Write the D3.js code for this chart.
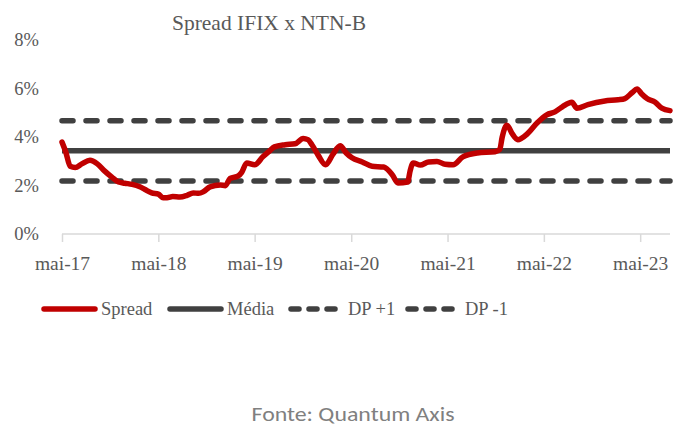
<!DOCTYPE html>
<html><head><meta charset="utf-8">
<script src="https://cdn.jsdelivr.net/npm/d3@7"></script>
<style>
html,body{margin:0;padding:0;background:#fff;}
svg{display:block;}
</style></head>
<body>
<svg id="chart" width="675" height="430"></svg>
<script>
// ---- data ----
const title = "Spread IFIX x NTN-B";
const source = "Fonte: Quantum Axis";
const dates = ["2017-05-01","2017-05-15","2017-06-01","2017-06-20","2017-07-15","2017-08-15","2017-09-12","2017-10-10","2017-11-06","2017-12-01","2017-12-25","2018-01-22","2018-02-20","2018-03-10","2018-04-06","2018-05-01","2018-05-19","2018-06-03","2018-06-25","2018-07-22","2018-08-18","2018-09-10","2018-10-01","2018-10-19","2018-11-13","2018-12-22","2019-01-10","2019-01-28","2019-02-28","2019-03-13","2019-04-01","2019-05-01","2019-06-01","2019-06-28","2019-07-15","2019-08-25","2019-10-01","2019-11-01","2019-11-19","2019-12-04","2019-12-28","2020-01-25","2020-02-22","2020-03-20","2020-04-12","2020-05-04","2020-06-12","2020-07-19","2020-09-01","2020-10-04","2020-10-25","2020-12-01","2020-12-10","2020-12-22","2021-01-18","2021-02-18","2021-03-22","2021-04-22","2021-05-22","2021-06-28","2021-08-22","2021-10-28","2021-11-15","2021-11-24","2021-12-12","2022-01-01","2022-01-22","2022-02-28","2022-04-06","2022-05-12","2022-06-12","2022-07-10","2022-08-15","2022-09-03","2022-10-15","2022-12-18","2023-02-06","2023-03-04","2023-04-01","2023-04-19","2023-05-06","2023-05-27","2023-06-27","2023-07-22","2023-08-22"];
const spread = [3.8,3.4,2.8,2.75,2.9,3.05,2.9,2.6,2.35,2.15,2.1,2.05,1.95,1.85,1.7,1.65,1.5,1.5,1.55,1.53,1.6,1.7,1.68,1.75,1.95,2.03,2.0,2.3,2.4,2.55,2.94,2.86,3.19,3.45,3.6,3.69,3.73,3.95,3.9,3.69,3.25,2.86,3.3,3.65,3.35,3.15,2.98,2.8,2.77,2.44,2.11,2.15,2.6,2.94,2.85,2.98,3.0,2.88,2.86,3.19,3.35,3.4,3.5,4.0,4.5,4.15,3.9,4.15,4.6,4.93,5.05,5.26,5.45,5.2,5.35,5.5,5.55,5.6,5.85,6.0,5.8,5.6,5.45,5.2,5.1];
const media = 3.44;
const dpPlus = 4.68;
const dpMinus = 2.19;
const yTicks = [0,2,4,6,8];
const xTickDates = ["2017-05-01","2018-05-01","2019-05-01","2020-05-01","2021-05-01","2022-05-01","2023-05-01"];
const legendLabels = ["Spread","Média","DP +1","DP -1"];

// ---- drawing ----
const parse = d3.timeParse("%Y-%m-%d");
const ptBR = d3.timeFormatLocale({
  dateTime:"%d/%m/%Y %H:%M:%S", date:"%d/%m/%Y", time:"%H:%M:%S",
  periods:["AM","PM"],
  days:["domingo","segunda","terça","quarta","quinta","sexta","sábado"],
  shortDays:["dom","seg","ter","qua","qui","sex","sáb"],
  months:["janeiro","fevereiro","março","abril","maio","junho","julho","agosto","setembro","outubro","novembro","dezembro"],
  shortMonths:["jan","fev","mar","abr","mai","jun","jul","ago","set","out","nov","dez"]
});
const fmt = ptBR.format("%b-%y");
const data = dates.map((d,i)=>({date:parse(d), v:spread[i]}));

const svg = d3.select("#chart");
const serif = "'Palatino Linotype','Book Antiqua',Palatino,'Liberation Serif',serif";
const textColor = "#595959";
const dark = "#404040";
const red = "#C00000";

const x = d3.scaleTime().domain([data[0].date, data[data.length-1].date]).range([62, 670]);
const y = d3.scaleLinear().domain([0,8]).range([234, 40.5]);

// title
svg.append("text").attr("x", 269).attr("y", 30).attr("text-anchor","middle")
  .attr("font-family", serif).attr("font-size", 21.5).attr("fill", textColor).text(title);

// y labels
svg.append("g").selectAll("text").data(yTicks).join("text")
  .attr("x", 39).attr("y", d=>y(d)).attr("dy","0.32em").attr("text-anchor","end")
  .attr("font-family", serif).attr("font-size", 18.5).attr("fill", textColor)
  .text(d=>d+"%");

// x axis
const xAxis = d3.axisBottom(x).tickValues(xTickDates.map(parse)).tickFormat(fmt).tickSize(8).tickPadding(14);
const gx = svg.append("g").attr("transform",`translate(0,${y(0)})`).call(xAxis);
gx.select(".domain").attr("stroke","#d9d9d9").attr("stroke-width",1.5).attr("d", `M${x.range()[0]},0H${x.range()[1]}`);
gx.selectAll(".tick line").attr("stroke","#d9d9d9").attr("stroke-width",1.5);
gx.selectAll(".tick text").attr("font-family", serif).attr("font-size", 19.5).attr("fill", textColor);

// reference lines
const [x0,x1] = x.range();
const refs = [
  {v:dpPlus, dash:"11,13"},
  {v:dpMinus, dash:"11,13"},
  {v:media, dash:null}
];
svg.append("g").selectAll("line").data(refs).join("line")
  .attr("x1", x0).attr("x2", x1).attr("y1", d=>y(d.v)).attr("y2", d=>y(d.v))
  .attr("stroke", dark).attr("stroke-width", 5.5)
  .attr("stroke-linecap", d=>d.dash?"round":"butt")
  .attr("stroke-dasharray", d=>d.dash);

// spread line
const line = d3.line().x(d=>x(d.date)).y(d=>y(d.v)).curve(d3.curveMonotoneX);
svg.append("path").datum(data).attr("d", line).attr("fill","none")
  .attr("stroke", red).attr("stroke-width", 5.5).attr("stroke-linejoin","round").attr("stroke-linecap","round");

// legend
const legY = 309;
const leg = [
  {label:legendLabels[0], x:44, color:red, dash:null, tx:101},
  {label:legendLabels[1], x:170, color:dark, dash:null, tx:227},
  {label:legendLabels[2], x:291, color:dark, dash:"8,10", tx:348},
  {label:legendLabels[3], x:408, color:dark, dash:"8,10", tx:465}
];
const lg = svg.append("g");
lg.selectAll("line").data(leg).join("line")
  .attr("x1", d=>d.x).attr("x2", d=>d.x+51).attr("y1", legY).attr("y2", legY)
  .attr("stroke", d=>d.color).attr("stroke-width", 5.5).attr("stroke-linecap","round")
  .attr("stroke-dasharray", d=>d.dash);
lg.selectAll("text").data(leg).join("text")
  .attr("x", d=>d.tx).attr("y", legY).attr("dy","0.32em")
  .attr("font-family", serif).attr("font-size", 18.5).attr("fill", textColor).text(d=>d.label);

// source
svg.append("text").attr("x", 353).attr("y", 421).attr("text-anchor","middle")
  .attr("font-family","Carlito,Calibri,'Open Sans','Noto Sans',sans-serif").attr("font-size", 20.5)
  .attr("textLength", 203).attr("lengthAdjust","spacingAndGlyphs")
  .attr("fill","#808080").text(source);
</script>
</body></html>
